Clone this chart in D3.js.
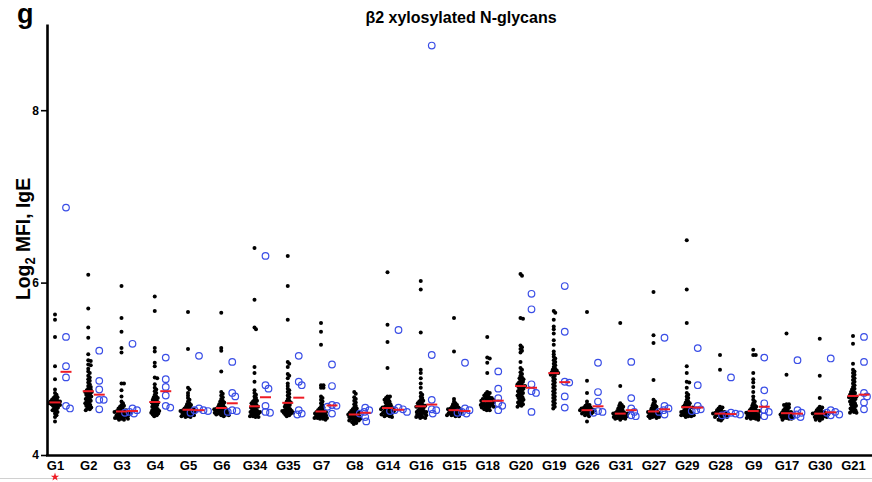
<!DOCTYPE html>
<html>
<head>
<meta charset="utf-8">
<script src="https://cdn.jsdelivr.net/npm/d3@7"></script>
<style>
body { margin: 0; background: #fff; }
text { font-family: "Liberation Sans", Arial, sans-serif; font-weight: bold; }
</style>
</head>
<body>
<script>
// glycan groups, in the order shown on the x axis
const groups = ["G1","G2","G3","G4","G5","G6","G34","G35","G7","G8","G14","G16","G15","G18","G20","G19","G26","G31","G27","G29","G28","G9","G17","G30","G21"];

// black dots (one array per group)
const blackVals = [
  [5.63,5.57,5.37,5.03,4.88,4.76,4.72,4.70,4.68,4.67,4.66,4.65,4.64,4.63,4.63,4.62,4.62,4.61,4.61,4.60,4.60,4.59,4.59,4.58,4.58,4.57,4.56,4.55,4.54,4.53,4.52,4.51,4.50,4.48,4.46,4.44,4.39],
  [6.09,5.70,5.48,5.36,5.17,5.10,5.09,5.05,5.04,5.00,4.97,4.95,4.92,4.90,4.88,4.86,4.84,4.82,4.80,4.79,4.77,4.76,4.75,4.74,4.73,4.73,4.72,4.71,4.70,4.69,4.68,4.67,4.66,4.65,4.64,4.63,4.62,4.61,4.60,4.59,4.58,4.57,4.56,4.55,4.54,4.53,4.52],
  [5.96,5.59,5.43,5.24,5.19,4.83,4.83,4.75,4.68,4.62,4.60,4.58,4.57,4.56,4.55,4.54,4.53,4.52,4.52,4.51,4.51,4.50,4.50,4.50,4.49,4.49,4.48,4.48,4.47,4.47,4.46,4.46,4.45,4.45,4.44,4.44,4.43,4.43,4.42,4.42,4.41,4.41],
  [5.84,5.67,5.24,5.20,5.07,5.03,4.90,4.89,4.82,4.78,4.76,4.74,4.72,4.70,4.68,4.67,4.66,4.65,4.64,4.63,4.62,4.61,4.61,4.60,4.59,4.58,4.57,4.56,4.55,4.54,4.53,4.52,4.52,4.51,4.50,4.50,4.49,4.48,4.48,4.47,4.46,4.45],
  [5.66,5.23,4.78,4.76,4.72,4.69,4.66,4.64,4.62,4.60,4.59,4.58,4.57,4.56,4.55,4.54,4.54,4.53,4.53,4.52,4.52,4.52,4.51,4.51,4.50,4.50,4.49,4.49,4.48,4.48,4.47,4.47,4.46,4.46,4.45,4.45,4.44,4.44],
  [5.65,5.24,5.21,4.97,4.73,4.71,4.69,4.67,4.65,4.63,4.62,4.61,4.60,4.59,4.58,4.57,4.56,4.55,4.55,4.54,4.54,4.53,4.53,4.52,4.52,4.51,4.51,4.50,4.50,4.49,4.49,4.48,4.48,4.47,4.47,4.46,4.46,4.45],
  [6.40,5.80,5.48,5.46,5.02,4.95,4.85,4.75,4.72,4.70,4.68,4.66,4.64,4.63,4.62,4.61,4.60,4.59,4.58,4.57,4.56,4.56,4.55,4.54,4.53,4.52,4.51,4.51,4.50,4.50,4.49,4.49,4.48,4.47,4.47,4.46,4.45,4.45,4.44,4.44],
  [6.31,5.96,5.57,5.08,5.06,5.02,4.94,4.92,4.89,4.83,4.80,4.77,4.75,4.73,4.71,4.69,4.67,4.65,4.63,4.62,4.61,4.60,4.59,4.58,4.57,4.56,4.55,4.54,4.53,4.52,4.52,4.51,4.51,4.50,4.50,4.49,4.49,4.48,4.48,4.47,4.46,4.45],
  [5.53,5.43,5.28,4.81,4.81,4.78,4.78,4.68,4.66,4.64,4.62,4.60,4.58,4.56,4.55,4.54,4.53,4.52,4.51,4.51,4.50,4.50,4.49,4.49,4.48,4.48,4.47,4.47,4.46,4.46,4.45,4.45,4.44,4.44,4.43,4.43,4.43,4.42,4.42,4.41],
  [4.73,4.71,4.67,4.65,4.63,4.61,4.59,4.57,4.55,4.54,4.53,4.52,4.51,4.50,4.50,4.49,4.49,4.48,4.48,4.47,4.47,4.46,4.46,4.45,4.45,4.44,4.44,4.43,4.43,4.42,4.42,4.41,4.41,4.40,4.40,4.39,4.38,4.37,4.36],
  [6.12,5.51,5.31,5.01,4.68,4.68,4.66,4.65,4.64,4.63,4.62,4.61,4.60,4.59,4.58,4.57,4.56,4.56,4.55,4.55,4.54,4.54,4.53,4.53,4.52,4.52,4.51,4.51,4.50,4.50,4.49,4.49,4.48,4.48,4.47,4.47,4.46,4.45,4.45,4.44],
  [6.02,5.92,5.42,4.99,4.95,4.89,4.83,4.78,4.72,4.70,4.68,4.66,4.64,4.63,4.62,4.61,4.60,4.59,4.58,4.57,4.57,4.56,4.56,4.55,4.54,4.53,4.52,4.51,4.51,4.50,4.50,4.49,4.48,4.48,4.47,4.46,4.46,4.45,4.44,4.44,4.43,4.43],
  [5.59,5.20,4.65,4.62,4.60,4.59,4.58,4.57,4.56,4.55,4.55,4.54,4.54,4.53,4.53,4.52,4.52,4.52,4.51,4.51,4.50,4.50,4.49,4.49,4.48,4.48,4.47,4.47,4.46,4.46,4.45,4.45],
  [5.37,5.13,5.12,5.07,4.95,4.73,4.72,4.71,4.70,4.69,4.68,4.67,4.66,4.66,4.65,4.65,4.64,4.64,4.63,4.63,4.62,4.62,4.61,4.61,4.60,4.60,4.59,4.59,4.58,4.58,4.57,4.57,4.56,4.56,4.55,4.55,4.54,4.53,4.52,4.52],
  [6.10,6.08,5.59,5.58,5.27,5.25,5.23,5.21,5.19,5.08,5.01,4.99,4.96,4.94,4.92,4.90,4.89,4.88,4.86,4.85,4.84,4.83,4.82,4.81,4.80,4.80,4.79,4.78,4.77,4.76,4.75,4.74,4.73,4.72,4.71,4.70,4.69,4.68,4.67,4.66,4.65,4.64,4.63,4.62,4.61,4.60,4.59,4.58,4.57,4.56],
  [5.67,5.65,5.57,5.49,5.46,5.41,5.33,5.28,5.20,5.17,5.14,5.12,5.10,5.08,5.06,5.04,5.02,5.00,4.99,4.98,4.97,4.96,4.95,4.95,4.94,4.93,4.92,4.90,4.88,4.86,4.84,4.82,4.80,4.78,4.76,4.74,4.72,4.70,4.68,4.66,4.64,4.62,4.60,4.58,4.56,4.54],
  [5.66,4.86,4.72,4.62,4.59,4.58,4.57,4.56,4.55,4.55,4.54,4.54,4.53,4.53,4.52,4.52,4.52,4.51,4.51,4.50,4.50,4.49,4.49,4.48,4.48,4.47,4.46,4.45,4.39],
  [5.53,4.80,4.60,4.58,4.57,4.56,4.55,4.54,4.53,4.52,4.51,4.50,4.50,4.49,4.49,4.48,4.48,4.48,4.47,4.47,4.46,4.46,4.45,4.45,4.44,4.44,4.43,4.43,4.42,4.42,4.41],
  [5.89,5.39,5.30,4.87,4.64,4.62,4.60,4.58,4.57,4.56,4.55,4.54,4.53,4.52,4.51,4.51,4.50,4.50,4.49,4.49,4.48,4.48,4.47,4.47,4.46,4.46,4.45,4.45,4.44,4.44,4.43,4.43],
  [6.49,5.92,5.53,5.03,4.95,4.85,4.84,4.78,4.72,4.70,4.68,4.66,4.64,4.62,4.61,4.60,4.59,4.58,4.57,4.56,4.56,4.55,4.55,4.54,4.53,4.52,4.51,4.51,4.50,4.50,4.49,4.49,4.48,4.48,4.47,4.47,4.46,4.46,4.46,4.45,4.45,4.44],
  [5.16,4.99,4.56,4.55,4.54,4.53,4.52,4.51,4.50,4.50,4.49,4.49,4.48,4.48,4.48,4.47,4.47,4.46,4.46,4.45,4.45,4.44,4.44,4.43,4.42,4.41,4.40],
  [5.22,5.16,5.16,4.95,4.88,4.84,4.79,4.73,4.68,4.64,4.62,4.60,4.58,4.57,4.56,4.55,4.54,4.53,4.52,4.52,4.51,4.51,4.50,4.50,4.49,4.49,4.48,4.48,4.47,4.47,4.46,4.46,4.45,4.45,4.44,4.44,4.43,4.43,4.42,4.42,4.41],
  [5.41,4.93,4.59,4.59,4.58,4.56,4.55,4.54,4.53,4.52,4.51,4.50,4.50,4.49,4.49,4.48,4.48,4.47,4.47,4.46,4.46,4.45,4.45,4.44,4.44,4.43,4.43,4.42,4.42,4.41],
  [5.35,4.92,4.66,4.56,4.55,4.54,4.53,4.52,4.51,4.50,4.50,4.49,4.49,4.48,4.48,4.48,4.47,4.47,4.46,4.46,4.45,4.45,4.44,4.44,4.43,4.43,4.42,4.41,4.40],
  [5.38,5.29,5.06,4.99,4.97,4.95,4.93,4.91,4.89,4.87,4.85,4.83,4.81,4.79,4.77,4.76,4.74,4.73,4.72,4.71,4.70,4.69,4.68,4.68,4.67,4.66,4.65,4.64,4.63,4.62,4.61,4.60,4.59,4.58,4.57,4.56,4.55,4.54,4.53,4.52,4.51,4.50,4.49,4.49]
];

// blue open circles (one array per group)
const blueVals = [
  [6.87,5.37,5.03,4.90,4.57,4.54],
  [5.21,4.86,4.76,4.64,4.64,4.53],
  [5.29,4.54,4.52,4.50,4.49,4.48],
  [5.13,4.88,4.79,4.69,4.57,4.55],
  [5.15,4.54,4.52,4.52,4.51,4.49],
  [5.08,4.72,4.68,4.52,4.51,4.50],
  [6.31,4.81,4.77,4.57,4.50,4.49],
  [5.15,4.85,4.81,4.52,4.48,4.47],
  [5.05,4.80,4.58,4.57,4.56,4.48],
  [4.55,4.52,4.50,4.48,4.44,4.39],
  [5.45,4.55,4.53,4.52,4.51,4.50],
  [8.75,5.16,4.64,4.53,4.52,4.48],
  [5.07,4.54,4.52,4.50,4.49,4.48],
  [4.97,4.77,4.66,4.60,4.57,4.52],
  [5.87,5.69,4.82,4.74,4.72,4.50],
  [5.96,5.43,4.85,4.84,4.68,4.55],
  [5.07,4.73,4.62,4.51,4.50,4.49],
  [5.08,4.66,4.54,4.50,4.46,4.45],
  [5.36,4.57,4.54,4.52,4.50,4.47],
  [5.24,4.81,4.57,4.53,4.52,4.51],
  [4.90,4.49,4.48,4.47,4.47,4.46],
  [5.13,4.75,4.60,4.52,4.50,4.45],
  [5.10,4.52,4.49,4.47,4.45,4.44],
  [5.12,4.52,4.50,4.49,4.47,4.46],
  [5.37,5.08,4.72,4.68,4.61,4.53]
];

const yTicks = [4, 6, 8];

const W = 872, H = 482;
const svg = d3.select("body").append("svg").attr("width", W).attr("height", H);

const y = d3.scaleLinear().domain([4, 9]).range([455, 24]);
const x = d3.scalePoint().domain(groups).range([55, 853]);

// simple beeswarm: place each point as close to the centre as it can go
function swarm(vals, cx, minD) {
  const pts = vals.map(v => ({ v: v, y: y(v) })).sort((a, b) => a.y - b.y);
  const placed = [];
  pts.forEach(p => {
    for (let k = 0; k < 200; k++) {
      const off = (k % 2 ? 1 : -1) * Math.ceil(k / 2) * 0.5;
      const ok = placed.every(q => (q.x - (cx + off)) ** 2 + (q.y - p.y) ** 2 >= minD * minD);
      if (ok) { p.x = cx + off; break; }
    }
    placed.push(p);
  });
  return placed;
}

const plot = svg.append("g");

groups.forEach((g, i) => {
  const cx = x(g);
  const bx = cx + 11;

  swarm(blackVals[i], cx, 2.2).forEach(p => {
    plot.append("circle").attr("cx", p.x).attr("cy", p.y).attr("r", 2).attr("fill", "#000");
  });

  swarm(blueVals[i], bx, 4.4).forEach(p => {
    plot.append("circle").attr("cx", p.x).attr("cy", p.y).attr("r", 3.3)
      .attr("fill", "none").attr("stroke", "#3a4ee6").attr("stroke-width", 1.2);
  });

  const m1 = d3.median(blackVals[i]), m2 = d3.median(blueVals[i]);
  plot.append("line").attr("x1", cx - 5.5).attr("x2", cx + 5.5).attr("y1", y(m1)).attr("y2", y(m1))
    .attr("stroke", "#ee1c25").attr("stroke-width", 2);
  plot.append("line").attr("x1", bx - 5.5).attr("x2", bx + 5.5).attr("y1", y(m2)).attr("y2", y(m2))
    .attr("stroke", "#ee1c25").attr("stroke-width", 2);
});

// y axis
const yAx = svg.append("g").attr("transform", "translate(47,0)")
  .call(d3.axisLeft(y).tickValues(yTicks).tickFormat(d3.format("d")).tickSize(6).tickSizeOuter(0).tickPadding(2));
yAx.select(".domain").attr("stroke-width", 2.6);
yAx.selectAll(".tick line").attr("stroke-width", 1.6);
yAx.selectAll(".tick text").attr("font-size", 12).attr("font-weight", "bold").attr("fill", "#000")
  .attr("font-family", "Liberation Sans, Arial, sans-serif");

// x axis
svg.append("line").attr("x1", 46).attr("x2", W).attr("y1", 455.5).attr("y2", 455.5)
  .attr("stroke", "#000").attr("stroke-width", 2.6);
const xAx = svg.append("g").attr("transform", "translate(0,456)")
  .call(d3.axisBottom(x).tickSize(0).tickPadding(5));
xAx.select(".domain").remove();
xAx.selectAll(".tick text").attr("font-size", 13).attr("font-weight", "bold").attr("fill", "#000")
  .attr("font-family", "Liberation Sans, Arial, sans-serif");

// thin grey rule at the bottom and the star under G1
svg.append("line").attr("x1", 0).attr("x2", W).attr("y1", 478.5).attr("y2", 478.5)
  .attr("stroke", "#d0d0d0").attr("stroke-width", 1);
svg.append("path").attr("d", d3.symbol(d3.symbolStar, 22)())
  .attr("transform", `translate(${x("G1")},477)`).attr("fill", "#ee1c25");

// titles
svg.append("text").attr("x", 461).attr("y", 23).attr("text-anchor", "middle")
  .attr("font-size", 16).text("β2 xylosylated N-glycans");
svg.append("text").attr("x", 17).attr("y", 23).attr("font-size", 27).text("g");

const yl = svg.append("text").attr("transform", "translate(30,239) rotate(-90)")
  .attr("text-anchor", "middle").attr("font-size", 21)
  .attr("textLength", 122).attr("lengthAdjust", "spacingAndGlyphs");
yl.append("tspan").text("Log");
yl.append("tspan").attr("font-size", 14).attr("dy", 5).text("2");
yl.append("tspan").attr("dy", -5).text(" MFI, IgE");
</script>
</body>
</html>
